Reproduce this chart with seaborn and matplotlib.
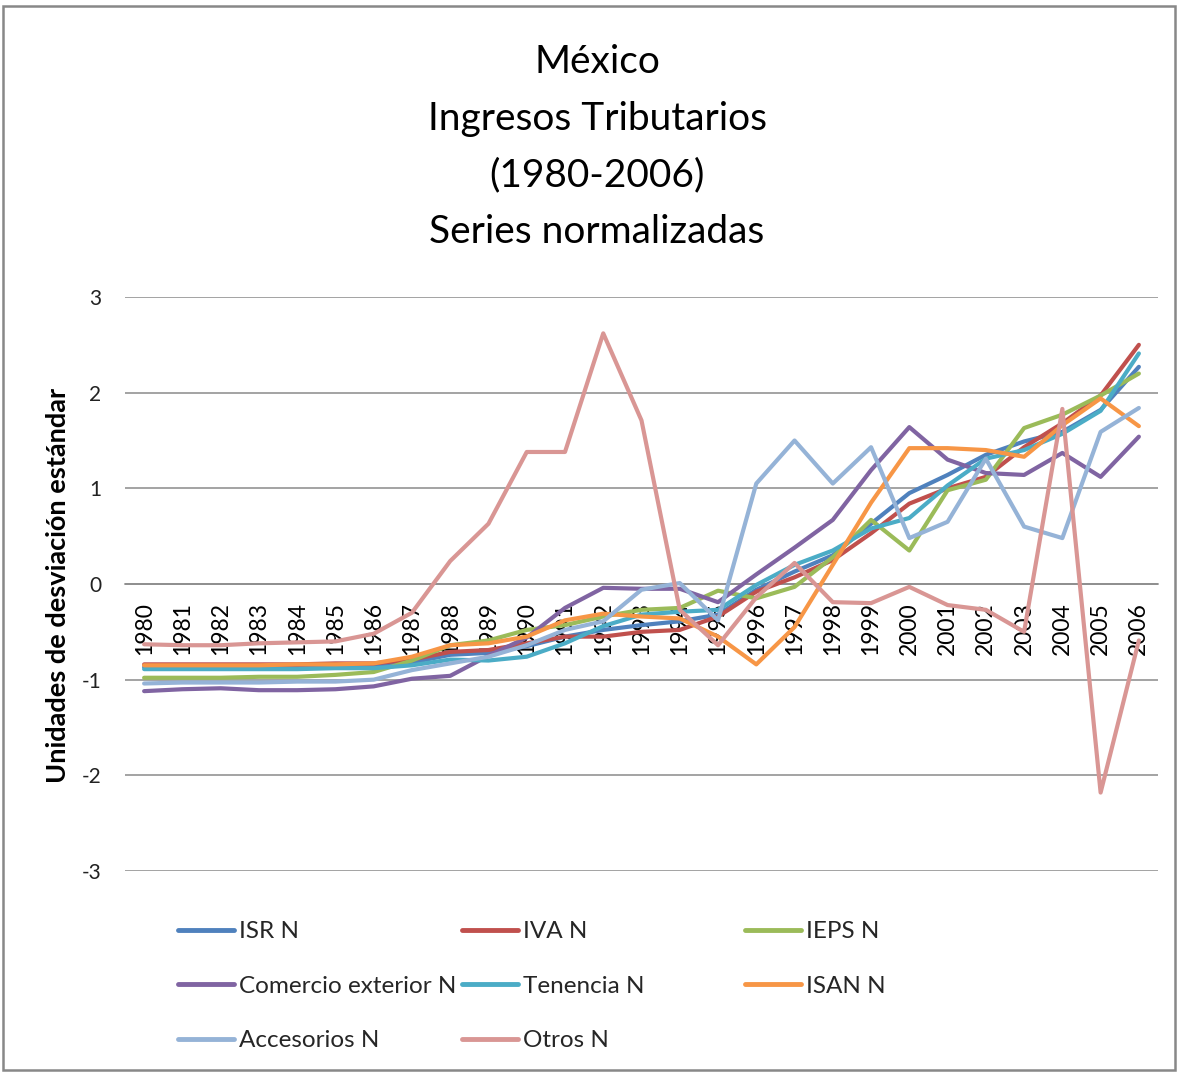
import matplotlib
matplotlib.use("Agg")
import matplotlib.pyplot as plt
from matplotlib.lines import Line2D
from matplotlib.patches import Rectangle
import seaborn as sns
import pandas as pd

years = list(range(1980, 2007))

isr = [-0.87, -0.87, -0.87, -0.87, -0.86, -0.86, -0.85, -0.82, -0.74, -0.72, -0.65, -0.55, -0.48, -0.43,
       -0.39, -0.32, -0.06, 0.13, 0.30, 0.63, 0.95, 1.14, 1.35, 1.49, 1.59, 1.82, 2.27]
iva = [-0.84, -0.84, -0.84, -0.84, -0.84, -0.83, -0.83, -0.79, -0.71, -0.69, -0.62, -0.55, -0.55, -0.50,
       -0.48, -0.34, -0.08, 0.07, 0.25, 0.53, 0.84, 1.00, 1.12, 1.43, 1.68, 1.97, 2.50]
ieps = [-0.98, -0.98, -0.98, -0.97, -0.97, -0.95, -0.92, -0.80, -0.64, -0.59, -0.48, -0.43, -0.34, -0.27,
        -0.25, -0.07, -0.15, -0.03, 0.28, 0.67, 0.35, 0.98, 1.09, 1.63, 1.77, 1.97, 2.20]
comercio = [-1.12, -1.10, -1.09, -1.11, -1.11, -1.10, -1.07, -0.99, -0.96, -0.75, -0.56, -0.25, -0.04, -0.05,
            -0.05, -0.19, 0.10, 0.38, 0.67, 1.19, 1.64, 1.30, 1.16, 1.14, 1.37, 1.12, 1.54]
tenencia = [-0.89, -0.89, -0.89, -0.89, -0.89, -0.88, -0.88, -0.85, -0.79, -0.80, -0.76, -0.62, -0.44, -0.32,
            -0.29, -0.27, -0.01, 0.20, 0.35, 0.58, 0.69, 1.03, 1.31, 1.40, 1.57, 1.81, 2.41]
isan = [-0.85, -0.85, -0.85, -0.85, -0.84, -0.84, -0.83, -0.76, -0.64, -0.62, -0.55, -0.38, -0.31, -0.34,
        -0.36, -0.55, -0.84, -0.45, 0.20, 0.85, 1.42, 1.42, 1.40, 1.33, 1.66, 1.94, 1.65]
accesorios = [-1.04, -1.03, -1.03, -1.03, -1.02, -1.02, -1.00, -0.90, -0.83, -0.76, -0.64, -0.48, -0.39, -0.06,
              0.01, -0.38, 1.05, 1.50, 1.05, 1.43, 0.48, 0.65, 1.31, 0.60, 0.48, 1.59, 1.84]
otros = [-0.63, -0.64, -0.64, -0.62, -0.61, -0.60, -0.52, -0.30, 0.24, 0.63, 1.38, 1.38, 2.62, 1.71,
         -0.27, -0.64, -0.14, 0.22, -0.19, -0.20, -0.03, -0.22, -0.27, -0.50, 1.83, -2.18, -0.59]

series_names = ["ISR N", "IVA N", "IEPS N", "Comercio exterior N", "Tenencia N", "ISAN N",
                "Accesorios N", "Otros N"]
series_values = [isr, iva, ieps, comercio, tenencia, isan, accesorios, otros]
colors = ["#4F81BD", "#C0504D", "#9BBB59", "#8064A2", "#4BACC6", "#F79646", "#95B3D7", "#D99694"]

title_text = "México\nIngresos Tributarios\n(1980-2006)\nSeries normalizadas"
ylabel_text = "Unidades de desviación estándar"
yticks = [-3, -2, -1, 0, 1, 2, 3]

rows = []
for name, vals in zip(series_names, series_values):
    for yr, v in zip(years, vals):
        rows.append({"Año": yr, "Valor": v, "Serie": name})
df = pd.DataFrame(rows)

sns.set_theme(style="white")
plt.rcParams["font.family"] = ["Lato", "DejaVu Sans"]

W, H = 1179, 1074
fig = plt.figure(figsize=(W / 100, H / 100), dpi=100)
ax = fig.add_axes([125 / W, 1 - 871 / H, (1158 - 125) / W, (871 - 297) / H])

palette = dict(zip(series_names, colors))
sns.lineplot(data=df, x="Año", y="Valor", hue="Serie", hue_order=series_names,
             palette=palette, linewidth=3.0, legend=False, ax=ax, sort=False)

for s in ["left", "right", "top"]:
    ax.spines[s].set_visible(False)
ax.spines["bottom"].set_position(("data", 0))
ax.spines["bottom"].set_color("#8a8a8a")
ax.spines["bottom"].set_linewidth(1.1)
ax.spines["bottom"].set_zorder(0.5)

ax.set_xlim(1979.5, 2006.5)
ax.set_ylim(-3, 3)
ax.set_yticks(yticks)
ax.set_yticklabels([str(t) for t in yticks], fontsize=15, color="#222222")
ax.set_xticks(years)
ax.set_xticklabels([str(y) for y in years], rotation=90, fontsize=16.5, color="black",
                   va="top", ha="center")
ax.tick_params(axis="x", length=0, pad=13)
ax.tick_params(axis="y", length=0, pad=17)
ax.yaxis.grid(True, color="#8a8a8a", linewidth=1.1)
ax.xaxis.grid(False)
ax.set_axisbelow(True)
ax.set_xlabel("")
ax.set_ylabel("")

fig.text(58 / W, 1 - 585 / H, ylabel_text, rotation=90, fontsize=19.5, fontweight="bold",
         ha="center", va="center", color="black")

fig.text(597 / W, 1 - 147 / H, title_text, fontsize=28, ha="center", va="center",
         linespacing=1.72, color="black")

# legends: three columns, row-major order as in the original
handles = [Line2D([0], [0], color=c, lw=3.5, solid_capstyle="round") for c in colors]
col_members = [[0, 3, 6], [1, 4, 7], [2, 5]]
col_x = [178, 462, 745]
for members, xpx in zip(col_members, col_x):
    leg = fig.legend([handles[i] for i in members], [series_names[i] for i in members],
                     loc="upper left", bbox_to_anchor=(xpx / W, 1 - 921 / H),
                     frameon=False, fontsize=17.5, handlelength=2.3, handletextpad=0.2,
                     labelspacing=1.38, borderpad=0, borderaxespad=0)

fig.patches.append(Rectangle((3 / W, 4 / H), (W - 7) / W, (H - 10) / H, transform=fig.transFigure,
                             fill=False, edgecolor="#888888", linewidth=1.8))

fig.savefig("out.png", dpi=100)
